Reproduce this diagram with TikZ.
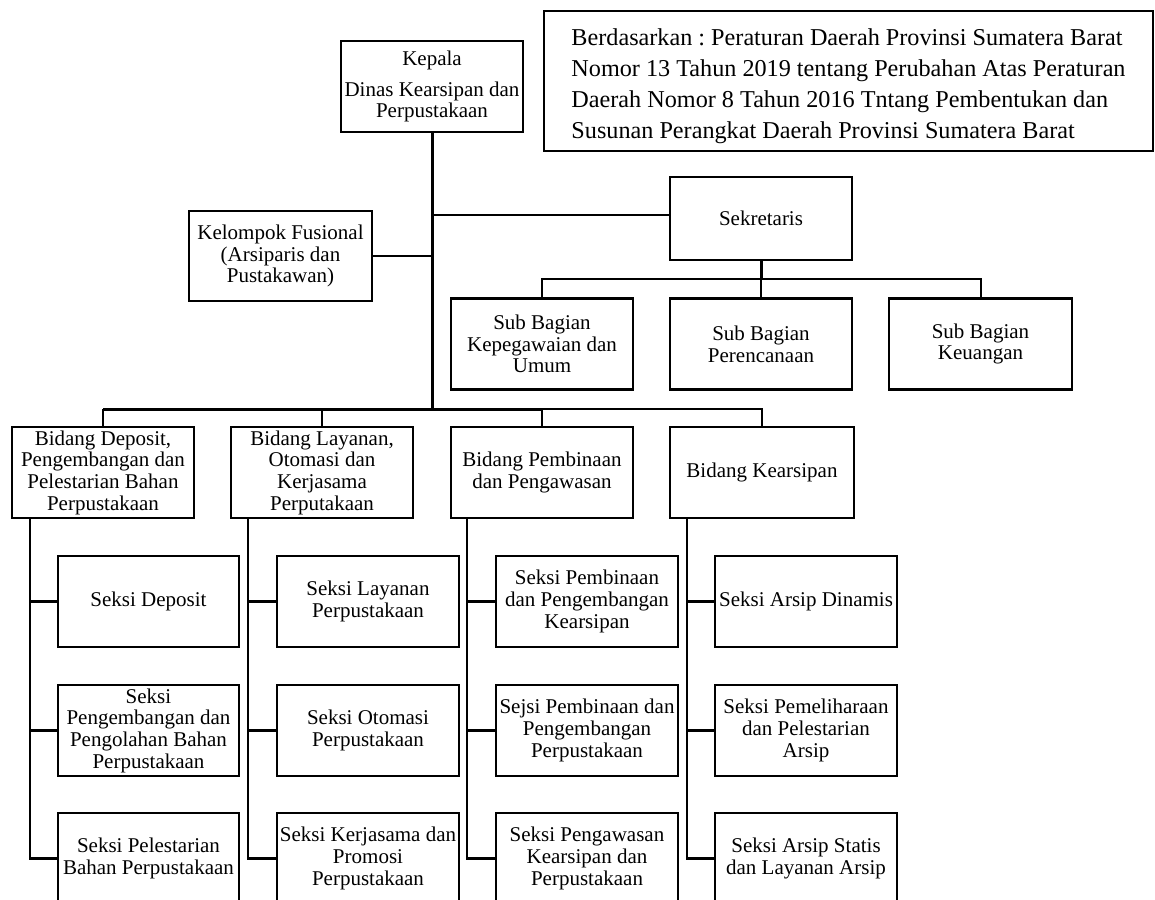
\documentclass[tikz,border=0pt]{standalone}
\usepackage{fontspec}
\setmainfont{Liberation Serif}
\begin{document}
\frenchspacing
\begin{tikzpicture}[x=1pt,y=-1pt,
  box/.style={draw, line width=2.2pt, align=center, inner sep=0pt,
    font=\fontsize{21}{21.7}\selectfont, minimum width=182pt, minimum height=91pt},
  notebox/.style={draw, line width=1.5pt, align=left, inner xsep=0pt, inner ysep=0pt,
    minimum width=609pt, minimum height=140pt, font=\fontsize{24.2}{31}\selectfont},
  conn/.style={line width=2pt},
  trunk/.style={line width=3pt},
  seksiline/.style={line width=2.4pt}]
\useasboundingbox (0,0) rectangle (1155,899);
\clip (0,0) rectangle (1155,899);

% top
\node[box] (kep) at (432,86.5) {Kepala\\[9pt]Dinas Kearsipan dan\\Perpustakaan};
\node[notebox] (note) at (848.5,81) {\rule{0pt}{27pt}Berdasarkan : Peraturan Daerah Provinsi Sumatera Barat\\Nomor 13 Tahun 2019 tentang Perubahan Atas Peraturan\\Daerah Nomor 8 Tahun 2016 Tntang Pembentukan dan\\Susunan Perangkat Daerah Provinsi Sumatera Barat};
\node[box, minimum width=183pt, minimum height=90pt] (kel) at (280.5,256) {Kelompok Fusional\\(Arsiparis dan\\Pustakawan)};
\node[box, minimum height=83pt] (sek) at (761,218.5) {Sekretaris};

% sub bagian
\node[box] (sb1) at (542,344) {Sub Bagian\\Kepegawaian dan\\Umum};
\node[box] (sb2) at (761,344) {Sub Bagian\\Perencanaan};
\node[box, minimum width=183pt] (sb3) at (980.5,344) {Sub Bagian\\Keuangan};

% bidang
\node[box] (B1) at (103,472.5) {Bidang Deposit,\\Pengembangan dan\\Pelestarian Bahan\\Perpustakaan};
\node[box] (B2) at (322,472.5) {Bidang Layanan,\\Otomasi dan\\Kerjasama\\Perputakaan};
\node[box] (B3) at (542,472.5) {Bidang Pembinaan\\dan Pengawasan};
\node[box, minimum width=184pt] (B4) at (762,472.5) {Bidang Kearsipan};

% seksi
\node[box, minimum width=181pt] (s11) at (148.5,601.5) {Seksi Deposit};
\node[box, minimum width=181pt] (s12) at (148.5,730.5) {Seksi\\Pengembangan dan\\Pengolahan Bahan\\Perpustakaan};
\node[box, minimum width=181pt] (s13) at (148.5,858.5) {Seksi Pelestarian\\Bahan Perpustakaan};

\node[box] (s21) at (368,601.5) {Seksi Layanan\\Perpustakaan};
\node[box] (s22) at (368,730.5) {Seksi Otomasi\\Perpustakaan};
\node[box] (s23) at (368,858.5) {Seksi Kerjasama dan\\Promosi\\Perpustakaan};

\node[box] (s31) at (587,601.5) {Seksi Pembinaan\\dan Pengembangan\\Kearsipan};
\node[box] (s32) at (587,730.5) {Sejsi Pembinaan dan\\Pengembangan\\Perpustakaan};
\node[box] (s33) at (587,858.5) {Seksi Pengawasan\\Kearsipan dan\\Perpustakaan};

\node[box] (s41) at (806,601.5) {Seksi Arsip Dinamis};
\node[box] (s42) at (806,730.5) {Seksi Pemeliharaan\\dan Pelestarian\\Arsip};
\node[box] (s43) at (806,858.5) {Seksi Arsip Statis\\dan Layanan Arsip};

% junctions
\coordinate (kb) at (432,409);
\coordinate (ks) at (432,215);
\coordinate (sj) at (761,279);

% connectors
\draw[trunk] (kep.south) -- (kb);
\draw[conn] (ks) -- (ks -| sek.west);
\draw[conn] (kel.east) -- (kel.east -| kep.south);
\draw[trunk] (sek.south) -- (sj);
\draw[conn] (sb1.north) |- (sj) -| (sb3.north);
\draw[conn] (sj) -- (sb2.north);

\draw[trunk] (B1.north |- kb) -- (B3.north |- kb);
\draw[conn] (B1.north) -- (B1.north |- kb);
\draw[conn] (B2.north) -- (B2.north |- kb);
\draw[conn] (B3.north) -- (B3.north |- kb) -| (B4.north);

\coordinate (c1) at ([xshift=19pt]B1.south west);
\coordinate (c2) at ([xshift=18pt]B2.south west);
\coordinate (c3) at ([xshift=17pt]B3.south west);
\coordinate (c4) at ([xshift=18pt]B4.south west);

\foreach \c in {1,2,3,4}{
  \draw[seksiline] (c\c) |- (s\c3.west);
  \draw[seksiline] (c\c |- s\c1.west) -- (s\c1.west);
  \draw[seksiline] (c\c |- s\c2.west) -- (s\c2.west);
}
\end{tikzpicture}
\end{document}
